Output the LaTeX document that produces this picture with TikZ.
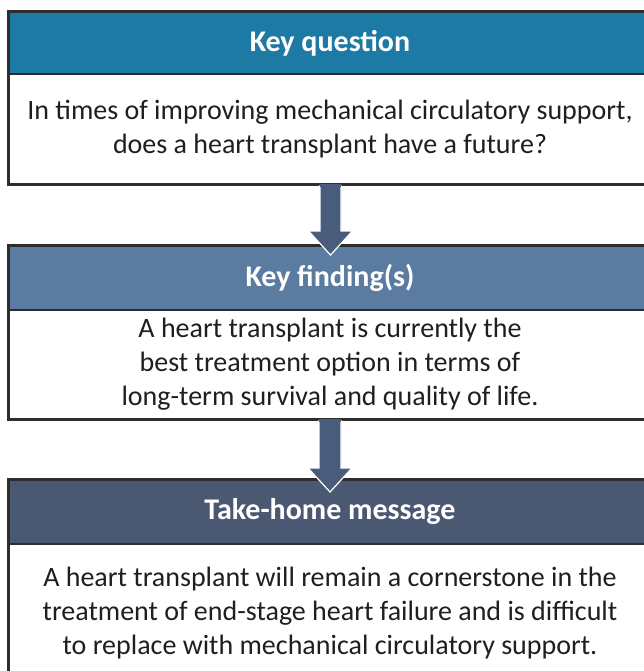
\documentclass[tikz,border=0pt]{standalone}
\usepackage{fontspec}
\setmainfont{Carlito}
\usetikzlibrary{calc}
\definecolor{hdA}{RGB}{28,122,164}
\definecolor{hdB}{RGB}{91,124,160}
\definecolor{hdC}{RGB}{74,88,114}
\definecolor{arrowc}{RGB}{74,92,124}
\definecolor{edge}{RGB}{45,45,45}
\tikzset{
  x=1pt, y=-1pt,
  header/.style={draw=edge, line width=2pt, minimum width=642pt, inner sep=0pt,
    text=white, font=\fontsize{30}{34}\selectfont\bfseries, anchor=north},
  bodybox/.style={draw=edge, line width=2pt, minimum width=642pt, inner sep=0pt,
    align=center, text=black!88, font=\fontsize{28}{34}\selectfont, anchor=north},
  bigarrow/.style={fill=arrowc, draw=white, line width=1.2pt, line join=miter}
}
\begin{document}
\begin{tikzpicture}
\useasboundingbox (0,0) rectangle (644,671);
\clip (0,0) rectangle (644,671);
\fill[white] (0,0) rectangle (644,671);
% box 1
\node[header, fill=hdA, minimum height=62pt] (h1) at (330,11) {Key question};
\node[bodybox, minimum height=110pt] (b1) at (330,73)
  {In times of improving mechanical circulatory support,\\does a heart transplant have a future?};
% box 2
\node[header, fill=hdB, minimum height=64pt] (h2) at (330,245) {Key finding(s)};
\node[bodybox, minimum height=109pt] (b2) at (330,309)
  {A heart transplant is currently the\\best treatment option in terms of\\long-term survival and quality of life.};
% box 3
\node[header, fill=hdC, minimum height=64pt] (h3) at (330,479) {Take-home message};
\node[bodybox, minimum height=138pt] (b3) at (330,543)
  {A heart transplant will remain a cornerstone in the\\treatment of end-stage heart failure and is difficult\\to replace with mechanical circulatory support.};
% outer borders
\draw[edge, line width=2pt] (h1.north west) rectangle (b1.south east);
\draw[edge, line width=2pt] (h2.north west) rectangle (b2.south east);
\draw[edge, line width=2pt] (h3.north west) rectangle (b3.south east);
% arrows
\coordinate (a1) at ($(b1.south)+(0.5,0)$);
\coordinate (t1) at ($(h2.north)+(0.5,10)$);
\draw[bigarrow] ($(a1)+(-10.5,0)$) -- ($(t1)+(-10.5,-24)$) -- ($(t1)+(-22,-24)$) -- (t1)
  -- ($(t1)+(22,-24)$) -- ($(t1)+(10.5,-24)$) -- ($(a1)+(10.5,0)$);
\fill[arrowc] ($(a1)+(-10.5,-1)$) rectangle ($(a1)+(10.5,1.5)$);
\coordinate (a2) at ($(b2.south)+(0,0)$);
\coordinate (t2) at ($(h3.north)+(0,13)$);
\draw[bigarrow] ($(a2)+(-11,0)$) -- ($(t2)+(-11,-24)$) -- ($(t2)+(-22,-24)$) -- (t2)
  -- ($(t2)+(22,-24)$) -- ($(t2)+(11,-24)$) -- ($(a2)+(11,0)$);
\fill[arrowc] ($(a2)+(-11,-1)$) rectangle ($(a2)+(11,1.5)$);
\end{tikzpicture}
\end{document}
